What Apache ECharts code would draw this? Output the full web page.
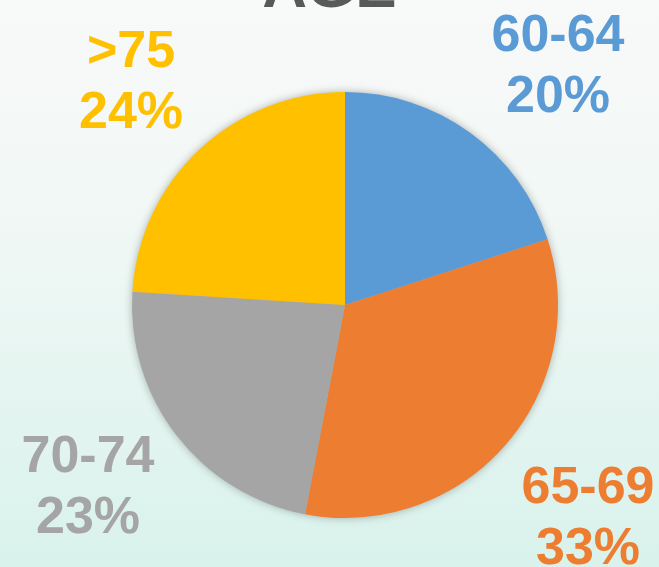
<!DOCTYPE html>
<html>
<head>
<meta charset="utf-8">
<script src="https://cdn.jsdelivr.net/npm/echarts@6/dist/echarts.min.js"></script>
<style>
  html, body { margin: 0; padding: 0; }
  #chart { width: 659px; height: 567px; }
</style>
</head>
<body>
<div id="chart"></div>
<script>
const titleText = 'AGE';
const categories = ['60-64', '65-69', '70-74', '>75'];
const shares = [20, 33, 23, 24];
const sliceColors = ['#5B9BD5', '#ED7D31', '#A5A5A5', '#FFC000'];

// label anchor points (layout, not data)
const labelAnchors = [
  [558, 67],
  [588, 519],
  [88, 488],
  [131, 83]
];

const chart = echarts.init(document.getElementById('chart'), null, { renderer: 'canvas' });

const FONT = '"Liberation Sans", Arial, sans-serif';

chart.setOption({
  animation: false,
  backgroundColor: {
    type: 'linear', x: 0, y: 0, x2: 0, y2: 1,
    colorStops: [
      { offset: 0, color: '#f8f9f9' },
      { offset: 0.35, color: '#f2f8f6' },
      { offset: 1, color: '#d9f2ec' }
    ]
  },
  title: {
    text: titleText,
    left: 'center',
    top: -46,
    textStyle: {
      fontFamily: FONT,
      fontWeight: 'bold',
      fontSize: 62,
      lineHeight: 62,
      color: '#595959'
    }
  },
  series: [
    {
      type: 'pie',
      silent: true,
      center: [345, 305],
      radius: 212,
      z: 1,
      label: { show: false },
      labelLine: { show: false },
      itemStyle: {
        color: '#b0b0b0',
        shadowBlur: 10,
        shadowColor: 'rgba(0,0,0,0.35)'
      },
      data: [{ value: 1, name: '' }]
    },
    {
      type: 'pie',
      z: 2,
      center: [345, 305],
      radius: 213,
      startAngle: 90,
      clockwise: true,
      avoidLabelOverlap: false,
      itemStyle: { borderWidth: 0 },
      label: {
        show: true,
        formatter: '{b}\n{c}%',
        fontFamily: FONT,
        fontWeight: 'bold',
        fontSize: 52,
        lineHeight: 61
      },
      labelLine: { show: false },
      labelLayout: function (params) {
        const p = labelAnchors[params.dataIndex];
        return { x: p[0], y: p[1], align: 'center', verticalAlign: 'middle' };
      },
      data: categories.map((c, i) => ({
        name: c,
        value: shares[i],
        itemStyle: { color: sliceColors[i] },
        label: { color: sliceColors[i] }
      }))
    }
  ]
});
</script>
</body>
</html>
